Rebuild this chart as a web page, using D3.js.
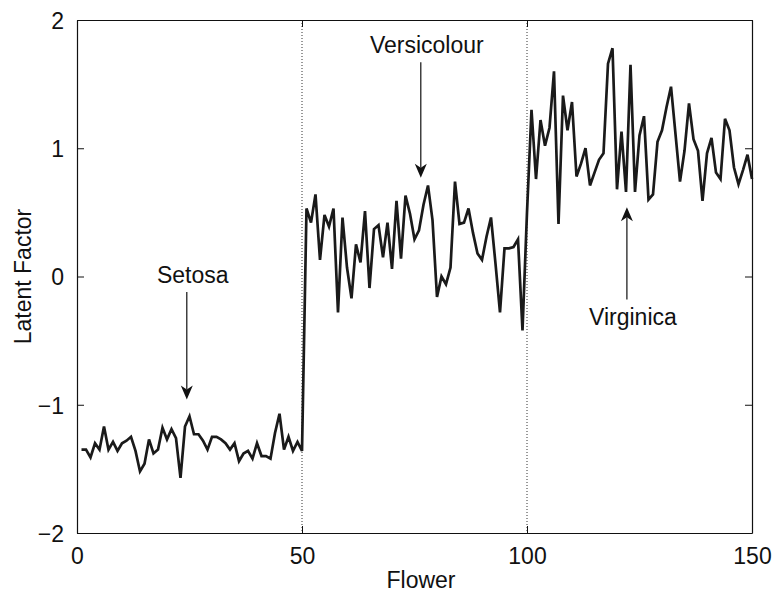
<!DOCTYPE html>
<html>
<head>
<meta charset="utf-8">
<script src="https://cdn.jsdelivr.net/npm/d3@7"></script>
<style>
  body { margin: 0; background: #fff; }
  svg text { font-family: "Liberation Sans", Arial, Helvetica, sans-serif; fill: #111; }
</style>
</head>
<body>
<div id="chart"></div>
<script>
// latent factor per flower (flowers 1..150)
const setosa = [
  -1.35, -1.35, -1.41, -1.30, -1.35, -1.17, -1.35, -1.29, -1.36, -1.30,
  -1.28, -1.25, -1.36, -1.52, -1.46, -1.27, -1.38, -1.35, -1.18, -1.27,
  -1.19, -1.26, -1.57, -1.17, -1.09, -1.23, -1.23, -1.28, -1.35, -1.25,
  -1.25, -1.27, -1.30, -1.35, -1.30, -1.44, -1.38, -1.36, -1.42, -1.30,
  -1.40, -1.40, -1.42, -1.22, -1.07, -1.35, -1.25, -1.36, -1.29, -1.36
];
const versicolour = [
  0.53, 0.42, 0.64, 0.13, 0.48, 0.39, 0.53, -0.28, 0.46, 0.07,
  -0.17, 0.25, 0.11, 0.51, -0.09, 0.37, 0.40, 0.15, 0.42, 0.06,
  0.59, 0.14, 0.63, 0.49, 0.29, 0.36, 0.56, 0.71, 0.44, -0.16,
  0.00, -0.06, 0.07, 0.74, 0.41, 0.42, 0.53, 0.34, 0.18, 0.13,
  0.31, 0.46, 0.10, -0.28, 0.22, 0.22, 0.23, 0.29, -0.42, 0.50
];
const virginica = [
  1.30, 0.76, 1.22, 1.02, 1.16, 1.60, 0.41, 1.41, 1.14, 1.36,
  0.78, 0.88, 1.00, 0.71, 0.81, 0.91, 0.96, 1.66, 1.78, 0.68,
  1.13, 0.66, 1.65, 0.66, 1.10, 1.25, 0.60, 0.64, 1.05, 1.14,
  1.32, 1.48, 1.11, 0.74, 0.98, 1.35, 1.07, 0.98, 0.59, 0.96,
  1.08, 0.81, 0.76, 1.23, 1.14, 0.85, 0.72, 0.83, 0.95, 0.76
];
const xTicks = [0, 50, 100, 150];
const yTicks = [-2, -1, 0, 1, 2];
const classBreaks = [50, 100];
// species label, arrow x, arrow tail y, arrow tip y (data units)
const labels = [
  { name: 'Setosa', x: 24.4, from: -0.12, to: -0.96 },
  { name: 'Versicolour', x: 76.4, from: 1.67, to: 0.77 },
  { name: 'Virginica', x: 122.2, from: -0.18, to: 0.54 }
];

const width = 773, height = 593;
const margin = { top: 20, right: 21, bottom: 60, left: 77 };

const values = setosa.concat(versicolour, virginica);
const data = values.map((v, i) => ({ flower: i + 1, value: v }));

const x = d3.scaleLinear().domain([0, 150]).range([margin.left, width - margin.right]);
const y = d3.scaleLinear().domain([-2, 2]).range([height - margin.bottom, margin.top]);

const svg = d3.select('#chart').append('svg')
  .attr('width', width)
  .attr('height', height);

// dotted class separators
svg.selectAll('.sep')
  .data(classBreaks)
  .enter()
  .append('line')
  .attr('class', 'sep')
  .attr('x1', d => x(d)).attr('x2', d => x(d))
  .attr('y1', y(2)).attr('y2', y(-2))
  .attr('stroke', '#333')
  .attr('stroke-width', 1)
  .attr('stroke-dasharray', '1,2');

const line = d3.line()
  .x(d => x(d.flower))
  .y(d => y(d.value));

svg.append('path')
  .datum(data)
  .attr('d', line)
  .attr('fill', 'none')
  .attr('stroke', '#1a1a1a')
  .attr('stroke-width', 2.7)
  .attr('stroke-linejoin', 'miter');

// axes, matlab style: ticks inside, mirrored on the box
const tickLen = 7;
const fontSize = 23;

const axBottom = svg.append('g')
  .attr('transform', `translate(0,${y(-2)})`)
  .call(d3.axisBottom(x).tickValues(xTicks).tickSizeInner(-tickLen).tickSizeOuter(0).tickPadding(tickLen + 8));
const axTop = svg.append('g')
  .attr('transform', `translate(0,${y(2)})`)
  .call(d3.axisTop(x).tickValues(xTicks).tickSizeInner(-tickLen).tickSizeOuter(0).tickFormat(''));
const axLeft = svg.append('g')
  .attr('transform', `translate(${x(0)},0)`)
  .call(d3.axisLeft(y).tickValues(yTicks).tickSizeInner(-tickLen).tickSizeOuter(0).tickPadding(tickLen + 6)
    .tickFormat(d => d < 0 ? '\u2212' + Math.abs(d) : d));
const axRight = svg.append('g')
  .attr('transform', `translate(${x(150)},0)`)
  .call(d3.axisRight(y).tickValues(yTicks).tickSizeInner(-tickLen).tickSizeOuter(0).tickFormat(''));

[axBottom, axTop, axLeft, axRight].forEach(g => {
  g.select('.domain').attr('stroke', '#111').attr('stroke-width', 1.2);
  g.selectAll('.tick line').attr('stroke', '#111').attr('stroke-width', 1);
  g.selectAll('.tick text')
    .attr('font-family', '"Liberation Sans", Arial, sans-serif')
    .attr('font-size', fontSize)
    .attr('fill', '#111');
});
axLeft.selectAll('.tick text').attr('dy', '0.36em');
axBottom.selectAll('.tick text').attr('dy', '0.71em');

svg.append('text')
  .attr('x', 421)
  .attr('y', 588)
  .attr('text-anchor', 'middle')
  .attr('font-size', fontSize)
  .text('Flower');

svg.append('text')
  .attr('transform', `translate(31,${y(0)}) rotate(-90)`)
  .attr('text-anchor', 'middle')
  .attr('font-size', fontSize)
  .text('Latent Factor');

// annotations
const ann = svg.selectAll('.ann')
  .data(labels)
  .enter()
  .append('g')
  .attr('class', 'ann');

ann.append('line')
  .attr('x1', d => x(d.x)).attr('x2', d => x(d.x))
  .attr('y1', d => y(d.from))
  .attr('y2', d => y(d.to) + (d.to < d.from ? -10 : 10))
  .attr('stroke', '#111')
  .attr('stroke-width', 1.2);

ann.append('path')
  .attr('d', 'M0,0 L-6,-14 L0,-10 L6,-14 Z')
  .attr('fill', '#111')
  .attr('transform', d => `translate(${x(d.x)},${y(d.to)}) rotate(${d.to < d.from ? 0 : 180})`);

ann.append('text')
  .attr('x', d => x(d.x) + 6)
  .attr('y', d => d.to < d.from ? y(d.from) - 9 : y(d.from) + 25)
  .attr('text-anchor', 'middle')
  .attr('font-size', fontSize)
  .text(d => d.name);
</script>
</body>
</html>
